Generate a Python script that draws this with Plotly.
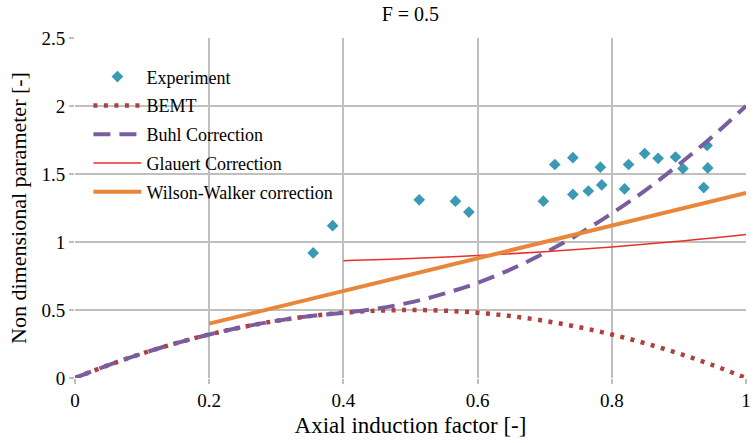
import plotly.graph_objects as go

# Experimental measurements (axial induction factor, non-dimensional parameter)
exp_a = [0.355, 0.384, 0.513, 0.567, 0.587, 0.698, 0.715, 0.742, 0.742, 0.765,
         0.783, 0.785, 0.819, 0.825, 0.849, 0.869, 0.895, 0.906, 0.937, 0.942, 0.943]
exp_ct = [0.92, 1.12, 1.31, 1.30, 1.22, 1.30, 1.57, 1.62, 1.35, 1.375,
          1.55, 1.42, 1.39, 1.57, 1.65, 1.615, 1.625, 1.54, 1.40, 1.71, 1.545]

# BEMT curve
bemt_a = [0.0, 0.05, 0.1, 0.15, 0.2, 0.25, 0.3, 0.35, 0.4, 0.45, 0.5,
          0.55, 0.6, 0.65, 0.7, 0.75, 0.8, 0.85, 0.9, 0.95, 1.0]
bemt_ct = [0.0, 0.095, 0.18, 0.255, 0.32, 0.375, 0.42, 0.455, 0.48, 0.495, 0.5,
           0.495, 0.48, 0.455, 0.42, 0.375, 0.32, 0.255, 0.18, 0.095, 0.0]

# Buhl correction
buhl_a = [0.0, 0.05, 0.1, 0.15, 0.2, 0.25, 0.3, 0.35, 0.4, 0.45, 0.5,
          0.55, 0.6, 0.65, 0.7, 0.75, 0.8, 0.85, 0.9, 0.95, 1.0]
buhl_ct = [0.0, 0.095, 0.18, 0.255, 0.32, 0.375, 0.42, 0.455, 0.48, 0.51, 0.556,
           0.62, 0.70, 0.80, 0.92, 1.056, 1.21, 1.38, 1.57, 1.776, 2.0]

# Glauert correction
glauert_a = [0.4, 0.5, 0.6, 0.7, 0.8, 0.9, 1.0]
glauert_ct = [0.863, 0.878, 0.900, 0.928, 0.963, 1.005, 1.055]

# Wilson-Walker correction
ww_a = [0.2, 0.4, 0.6, 0.8, 1.0]
ww_ct = [0.40, 0.64, 0.88, 1.12, 1.36]

FONT = "Times New Roman"

fig = go.Figure()
fig.add_trace(go.Scatter(
    x=exp_a, y=exp_ct, mode="markers", name="Experiment", legendgroup="g1",
    marker=dict(symbol="diamond", size=9, color="#3A9AB4")))
fig.add_trace(go.Scatter(
    x=bemt_a, y=bemt_ct, mode="lines", name="BEMT", legendgroup="g2",
    line=dict(color="#B0403C", width=4.5, dash="4px,6.5px", shape="spline")))
fig.add_trace(go.Scatter(
    x=buhl_a, y=buhl_ct, mode="lines", name="Buhl Correction", legendgroup="g3",
    line=dict(color="#7A5CA0", width=4, dash="17px,9px", shape="spline")))
fig.add_trace(go.Scatter(
    x=glauert_a, y=glauert_ct, mode="lines", name="Glauert Correction", legendgroup="g4",
    line=dict(color="#E8302A", width=1.5, shape="spline")))
fig.add_trace(go.Scatter(
    x=ww_a, y=ww_ct, mode="lines", name="Wilson-Walker correction", legendgroup="g5",
    line=dict(color="#E8873A", width=4)))

fig.update_layout(
    width=753, height=443,
    margin=dict(l=75, r=7, t=38, b=65),
    paper_bgcolor="white", plot_bgcolor="white",
    font=dict(family=FONT, size=19, color="#000000"),
    title=dict(text="F = 0.5", x=0.545, xanchor="center", y=0.968, yanchor="middle",
               font=dict(family=FONT, size=20, color="#000000")),
    showlegend=True,
    legend=dict(x=0.02, y=0.94, xanchor="left", yanchor="top",
                bgcolor="rgba(0,0,0,0)", tracegroupgap=2.4, itemwidth=48,
                font=dict(family=FONT, size=18, color="#000000")),
)

fig.update_xaxes(
    range=[0, 1], tickmode="array", tickvals=[0, 0.2, 0.4, 0.6, 0.8, 1],
    ticktext=["0", "0.2", "0.4", "0.6", "0.8", "1"],
    showgrid=True, gridcolor="#BFBFBF", gridwidth=1.5,
    zeroline=False, showline=False, automargin=False,
    ticks="outside", ticklen=5, tickcolor="#BFBFBF", tickwidth=1.5,
    tickfont=dict(family=FONT, size=19, color="#000000"),
    ticklabeloverflow="allow",
    title_text="Axial induction factor [-]",
    title_font=dict(family=FONT, size=23, color="#000000"), title_standoff=7,
)
fig.update_yaxes(
    range=[0, 2.5], tickmode="array", tickvals=[0, 0.5, 1, 1.5, 2, 2.5],
    ticktext=["0", "0.5", "1", "1.5", "2", "2.5"],
    showgrid=True, gridcolor="#BFBFBF", gridwidth=1.5,
    zeroline=False, showline=False, automargin=False,
    ticks="outside", ticklen=5, tickcolor="#BFBFBF", tickwidth=1.5,
    tickfont=dict(family=FONT, size=19, color="#000000"),
    title_text="Non dimensional parameter [-]",
    title_font=dict(family=FONT, size=22, color="#000000"), title_standoff=8,
)

fig.write_html("out.html")
